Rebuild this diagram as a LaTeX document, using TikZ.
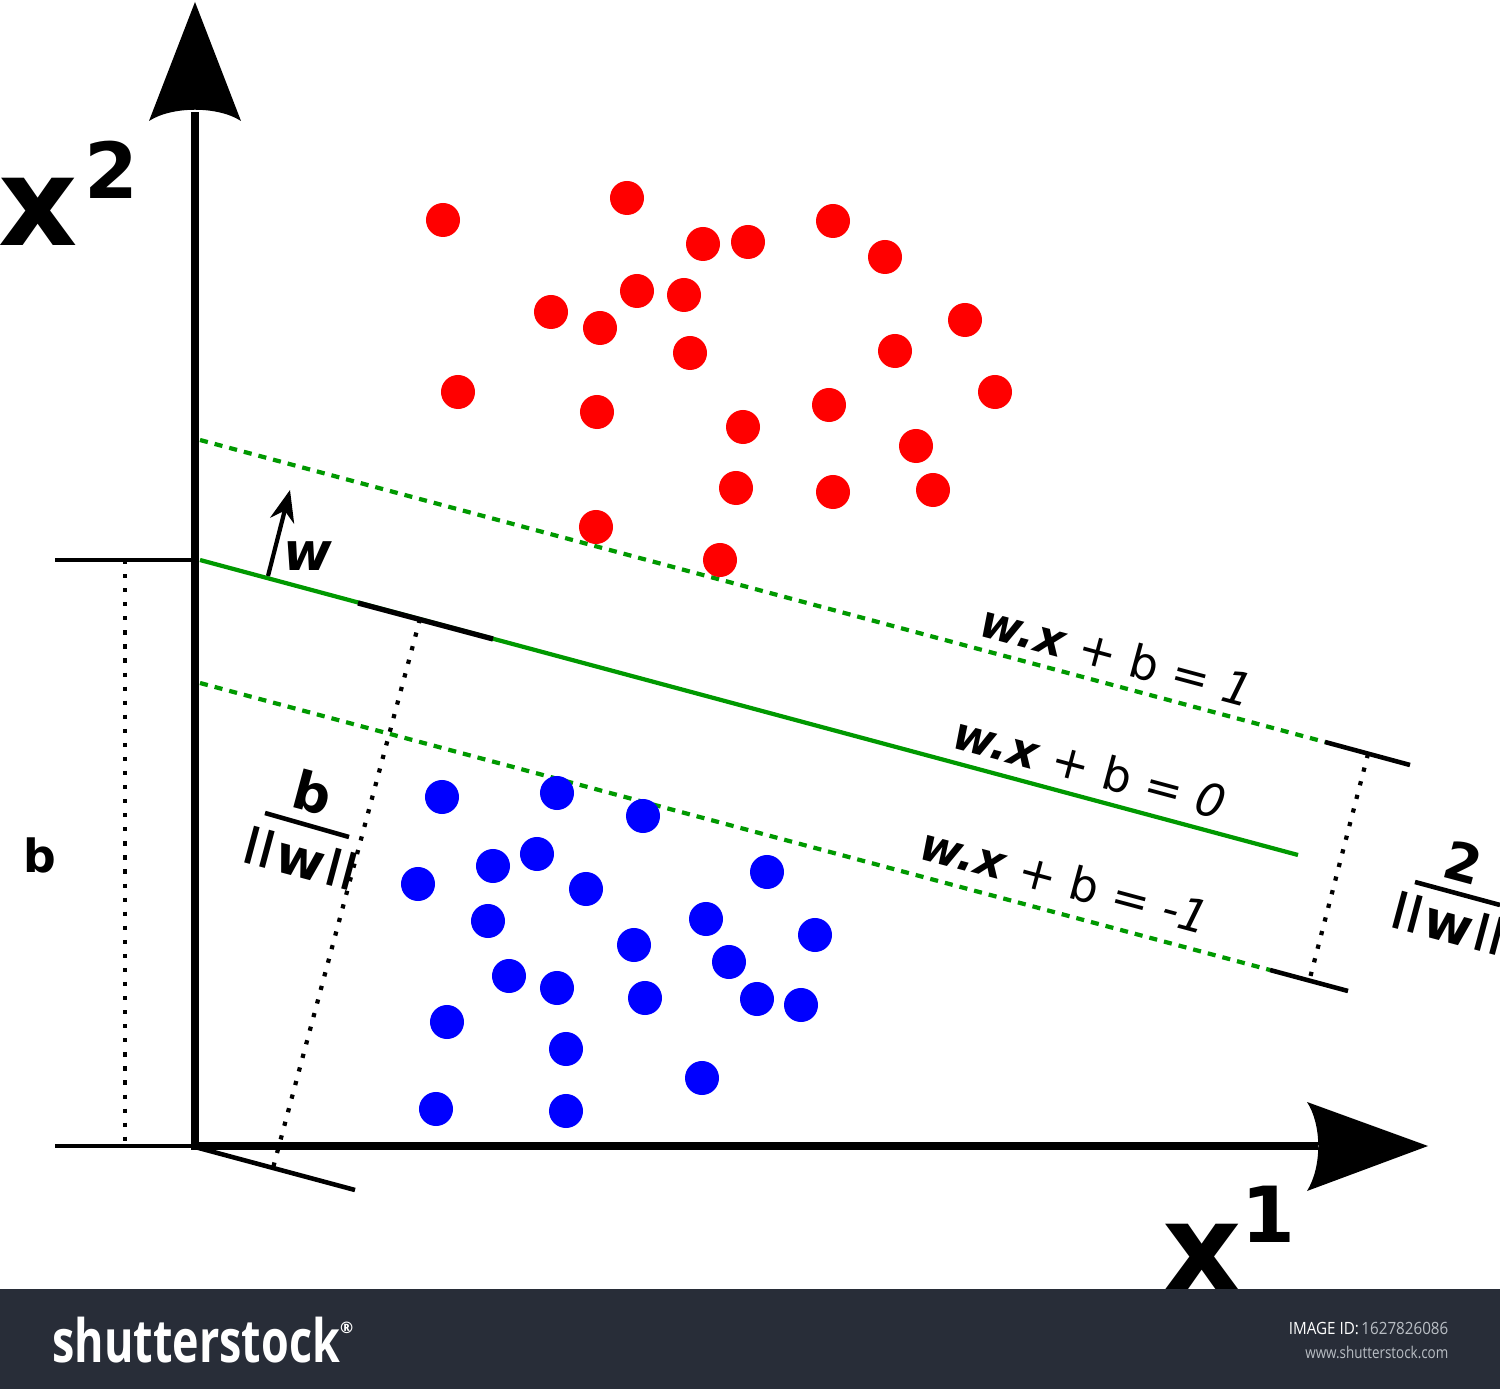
\documentclass[tikz,border=0pt]{standalone}
\usepackage{fontspec}
\usetikzlibrary{arrows.meta}
\setmainfont{DejaVu Sans}
\newfontfamily\logofont{Open Sans}
\definecolor{svmgreen}{RGB}{0,153,0}
\definecolor{barbg}{RGB}{40,45,56}
\definecolor{bargrey}{RGB}{185,190,196}
\newcommand\nbars{\raisebox{0.17em}{\scalebox{1}[0.72]{|\kern-0.08em|}}}
\newcommand\normw{\nbars\kern0.02em w\kern0.02em\nbars}
\begin{document}
\begin{tikzpicture}[x=0.01cm,y=-0.01cm,
  axisline/.style={line width=2.5pt},
  thinline/.style={line width=1.3pt},
  hyper/.style={svmgreen, line width=1.2pt},
  marginline/.style={svmgreen, line width=1.2pt, dash pattern=on 2.3pt off 2pt},
  dotline/.style={line width=1.2pt, dash pattern=on 1.2pt off 2.8pt},
  endseg/.style={line width=1.3pt},
  redpt/.style={circle, fill=red, minimum size=0.34cm, inner sep=0pt},
  bluept/.style={circle, fill=blue, minimum size=0.34cm, inner sep=0pt},
  eq/.style={rotate=-15, font=\fontsize{13}{15}\selectfont, inner sep=0pt},
  frac/.style={rotate=-15, font=\fontsize{15}{17}\selectfont\bfseries, inner sep=0pt},
  axlabel/.style={font=\fontsize{35}{40}\selectfont\bfseries, inner sep=0pt},
  axsup/.style={font=\fontsize{22}{26}\selectfont\bfseries, inner sep=0pt}]
\useasboundingbox (0,0) rectangle (1500,1389);
\fill[white] (0,0) rectangle (1500,1389);

% coordinates
\coordinate (O) at (195,1146);
\coordinate (ytop) at (195,112);
\coordinate (xend) at (1318,1146);
\coordinate (xleft) at (55,1146);
\coordinate (bleft) at (55,560);
\coordinate (H0) at (200,560);
\coordinate (H1) at (1298,855);
\coordinate (U0) at (200,440);
\coordinate (U1) at (1325,742);
\coordinate (U2) at (1410,765);
\coordinate (L0) at (200,683);
\coordinate (L1) at (1270,970);
\coordinate (L2) at (1348,991);
\coordinate (S0) at (358,603);
\coordinate (S1) at (493,639);
\coordinate (F) at (420,619);
\coordinate (T0) at (195,1147);
\coordinate (T1) at (355,1190);
\coordinate (Tf) at (273,1168);
\coordinate (Bt) at (125,560);
\coordinate (Bb) at (125,1146);
\coordinate (Mu) at (1368,754);
\coordinate (Ml) at (1310,978);
\coordinate (w0) at (268,576);
\coordinate (w1) at (290,490);

% axes
\draw[axisline] (O) -- (ytop);
\draw[axisline] (191,1146) -- (xend);
\fill (195,2) -- (241,121) .. controls (218,106) and (172,106) .. (149,121) -- cycle;
\fill (1428,1146) -- (1307,1102) .. controls (1322,1125) and (1322,1167) .. (1307,1191) -- cycle;
\draw[thinline] (xleft) -- (O);
\draw[line width=1pt] (bleft) -- (195,560);
\draw[thinline] (T0) -- (T1);

% dotted measures
\draw[dotline] (Bt) -- (Bb);
\draw[dotline] (F) -- (Tf);
\draw[dotline] (Mu) -- (Ml);

% hyperplanes
\draw[marginline] (U0) -- (U1);
\draw[marginline] (L0) -- (L1);
\draw[hyper] (H0) -- (H1);
\draw[endseg] (U1) -- (U2);
\draw[endseg] (L1) -- (L2);
\draw[line width=1.5pt] (S0) -- (S1);

% w arrow
\draw[line width=1.2pt, -{Stealth[length=9pt,width=7pt]}] (w0) -- (w1);
\node[font=\fontsize{15}{17}\selectfont\bfseries\itshape, inner sep=0pt] (wl) at (308,556) {w};

% points
\foreach \p [count=\i] in {(443,220),(627,198),(703,244),(748,242),(833,221),(885,257),(637,291),(684,295),(551,312),(600,328),(965,320),(690,353),(895,351),(458,392),(995,392),(597,412),(829,405),(743,427),(916,446),(736,488),(833,492),(933,490),(596,527),(720,560)}
  \node[redpt] (r\i) at \p {};
\foreach \p [count=\i] in {(442,797),(557,793),(643,816),(493,866),(537,854),(418,884),(586,889),(767,872),(488,921),(706,919),(815,935),(634,945),(729,962),(509,976),(557,988),(645,998),(757,999),(801,1005),(447,1022),(566,1049),(702,1078),(436,1109),(566,1111)}
  \node[bluept] (b\i) at \p {};

% equation labels
\node[eq] (e1) at (1117,655) {{\bfseries\itshape w.x} + b = {\itshape 1}};
\node[eq] (e0) at (1090,767) {{\bfseries\itshape w.x} + b = {\itshape 0}};
\node[eq] (em) at (1065,880) {{\bfseries\itshape w.x} + b = {\itshape -1}};

% fractions
\node[frac] (fb) at (313,792) {b};
\draw[line width=1.3pt] (265,813) -- (349,837);
\node[frac] (fw) at (301,858) {\normw};
\node[frac] (f2) at (1463,862) {2};
\draw[line width=1.3pt] (1415,882) -- (1500,905);
\node[frac] (fw2) at (1449,923) {\normw};

\node[font=\fontsize{13}{15}\selectfont\bfseries, inner sep=0pt] (bl) at (40,855) {b};

% axis labels
\node[axlabel] (x2) at (38,212) {x};
\node[axsup] (s2) at (111,170) {2};
\node[axlabel] (x1) at (1202,1258) {x};
\node[axsup] (s1) at (1268,1214) {1};

% bottom bar
\fill[barbg] (0,1289) rectangle (1500,1389);
\node[anchor=west, text=white, font=\logofont\fontsize{17}{20}\selectfont\bfseries, inner sep=0pt] (logo) at (52,1340) {\scalebox{0.75}[1]{shutterstock}\raisebox{0.9ex}{\fontsize{4.5}{5}\selectfont ®}};
\node[anchor=east, inner sep=0pt, font=\logofont\fontsize{4.8}{6}\selectfont] (iid) at (1449,1328) {\scalebox{0.9}[1]{\textcolor{white}{IMAGE ID:}\,\textcolor{bargrey}{1627826086}}};
\node[anchor=east, inner sep=0pt, text=bargrey, font=\logofont\fontsize{4.6}{6}\selectfont] (www) at (1449,1352) {\scalebox{0.83}[1]{www.shutterstock.com}};
\end{tikzpicture}
\end{document}
